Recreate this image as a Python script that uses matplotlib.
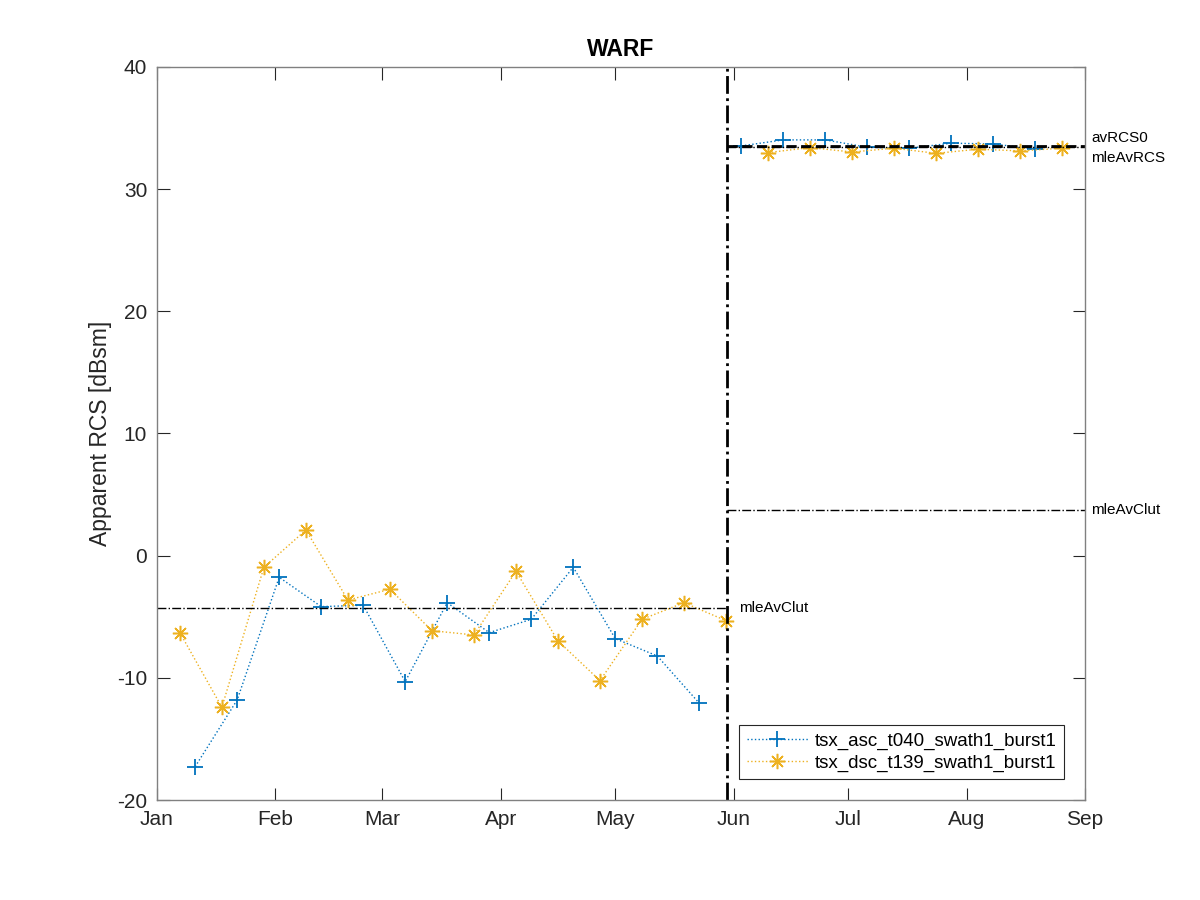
import numpy as np
import pandas as pd
import matplotlib
matplotlib.use("Agg")
import matplotlib.pyplot as plt
import matplotlib.dates as mdates

# TSX acquisitions (11-day repeat)
asc_dates = ["2019-01-11", "2019-01-22", "2019-02-02", "2019-02-13", "2019-02-24",
             "2019-03-07", "2019-03-18", "2019-03-29", "2019-04-09", "2019-04-20",
             "2019-05-01", "2019-05-12", "2019-05-23", "2019-06-03", "2019-06-14",
             "2019-06-25", "2019-07-06", "2019-07-17", "2019-07-28", "2019-08-08",
             "2019-08-19"]
asc_rcs = [-17.27, -11.81, -1.77, -4.17, -4.06, -10.31, -3.85, -6.30, -5.21, -0.95,
           -6.79, -8.21, -12.08, 33.54, 34.03, 34.03, 33.43, 33.35, 33.76, 33.70,
           33.27]

dsc_dates = ["2019-01-07", "2019-01-18", "2019-01-29", "2019-02-09", "2019-02-20",
             "2019-03-03", "2019-03-14", "2019-03-25", "2019-04-05", "2019-04-16",
             "2019-04-27", "2019-05-08", "2019-05-19", "2019-05-30", "2019-06-10",
             "2019-06-21", "2019-07-02", "2019-07-13", "2019-07-24", "2019-08-04",
             "2019-08-15", "2019-08-26"]
dsc_rcs = [-6.30, -12.41, -0.95, 2.10, -3.63, -2.75, -6.14, -6.49, -1.28, -6.98,
           -10.23, -5.21, -3.85, -5.32, 32.99, 33.40, 33.04, 33.35, 32.93, 33.27,
           33.13, 33.35]

install_date = "2019-05-30 08:00"
x_start, x_end = "2019-01-01", "2019-09-01"
mle_av_clut_pre = -4.28
mle_av_clut_post = 3.74
av_rcs0 = 33.5
mle_av_rcs = 33.45

c_asc = "#0072BD"
c_dsc = "#EDB120"

plt.rcParams['font.family'] = ['Liberation Sans', 'DejaVu Sans']
plt.rcParams['axes.unicode_minus'] = False

asc_t = pd.to_datetime(asc_dates)
dsc_t = pd.to_datetime(dsc_dates)
t_inst = pd.to_datetime(install_date)
t0, t1 = pd.to_datetime(x_start), pd.to_datetime(x_end)

fig = plt.figure(figsize=(12, 9), dpi=100)
ax = fig.add_axes([0.1308, 0.1111, 0.7734, 0.8145])

asc_v = np.array(asc_rcs)
dsc_v = np.array(dsc_rcs)
pre_a = asc_t < t_inst
pre_d = dsc_t <= t_inst

star = (8, 2, 0)  # MATLAB-like asterisk
ax.plot(asc_t[pre_a], asc_v[pre_a], ':', color=c_asc, marker='+', ms=11, mew=1.3,
        lw=1, label='tsx_asc_t040_swath1_burst1')
ax.plot(dsc_t[pre_d], dsc_v[pre_d], ':', color=c_dsc, marker=star, ms=11, mew=1.1,
        lw=1, label='tsx_dsc_t139_swath1_burst1')
ax.plot(asc_t[~pre_a], asc_v[~pre_a], ':', color=c_asc, marker='+', ms=11, mew=1.3, lw=1)
ax.plot(dsc_t[~pre_d], dsc_v[~pre_d], ':', color=c_dsc, marker=star, ms=11, mew=1.1, lw=1)

# reference levels
ax.plot([t0, t_inst], [mle_av_clut_pre] * 2, 'k-.', lw=1)
ax.plot([t_inst, t1], [mle_av_clut_post] * 2, 'k-.', lw=1)
ax.plot([t_inst, t1], [av_rcs0] * 2, 'k--', lw=2)
ax.plot([t_inst, t1], [mle_av_rcs] * 2, 'k-.', lw=1)
ax.axvline(t_inst, color='k', ls='-.', lw=2)

fs_note = 11
ax.text(t_inst + pd.Timedelta(days=3), mle_av_clut_pre, 'mleAvClut', fontsize=fs_note,
        va='center', ha='left')
ax.text(1.007, mle_av_clut_post, 'mleAvClut', transform=ax.get_yaxis_transform(),
        fontsize=fs_note, va='center', ha='left')
ax.text(1.007, av_rcs0 + 0.1, 'avRCS0', transform=ax.get_yaxis_transform(),
        fontsize=fs_note, va='bottom', ha='left')
ax.text(1.007, mle_av_rcs - 0.3, 'mleAvRCS', transform=ax.get_yaxis_transform(),
        fontsize=fs_note, va='top', ha='left')

ax.set_xlim(t0, t1)
ax.set_ylim(-20, 40)
ax.set_yticks(np.arange(-20, 41, 10))
ax.xaxis.set_major_locator(mdates.MonthLocator())
ax.xaxis.set_major_formatter(mdates.DateFormatter('%b'))

ax.tick_params(direction='in', top=True, right=True, length=9, width=0.8,
               labelsize=15, colors='#262626', pad=7)
for s in ax.spines.values():
    s.set_color('#808080')
    s.set_linewidth(1)

ax.set_ylabel('Apparent RCS [dBsm]', fontsize=16.5, color='#262626', labelpad=3.5)
ax.set_title('WARF', fontsize=16.5, fontweight='bold', pad=8)

leg = ax.legend(loc='lower right', fontsize=13.5, fancybox=False, framealpha=1,
                edgecolor='#262626', borderaxespad=1.1, handlelength=3.25,
                handletextpad=0.4, borderpad=0.4, labelspacing=0.25)
leg.get_frame().set_linewidth(0.8)

fig.savefig('out.png', dpi=100)
